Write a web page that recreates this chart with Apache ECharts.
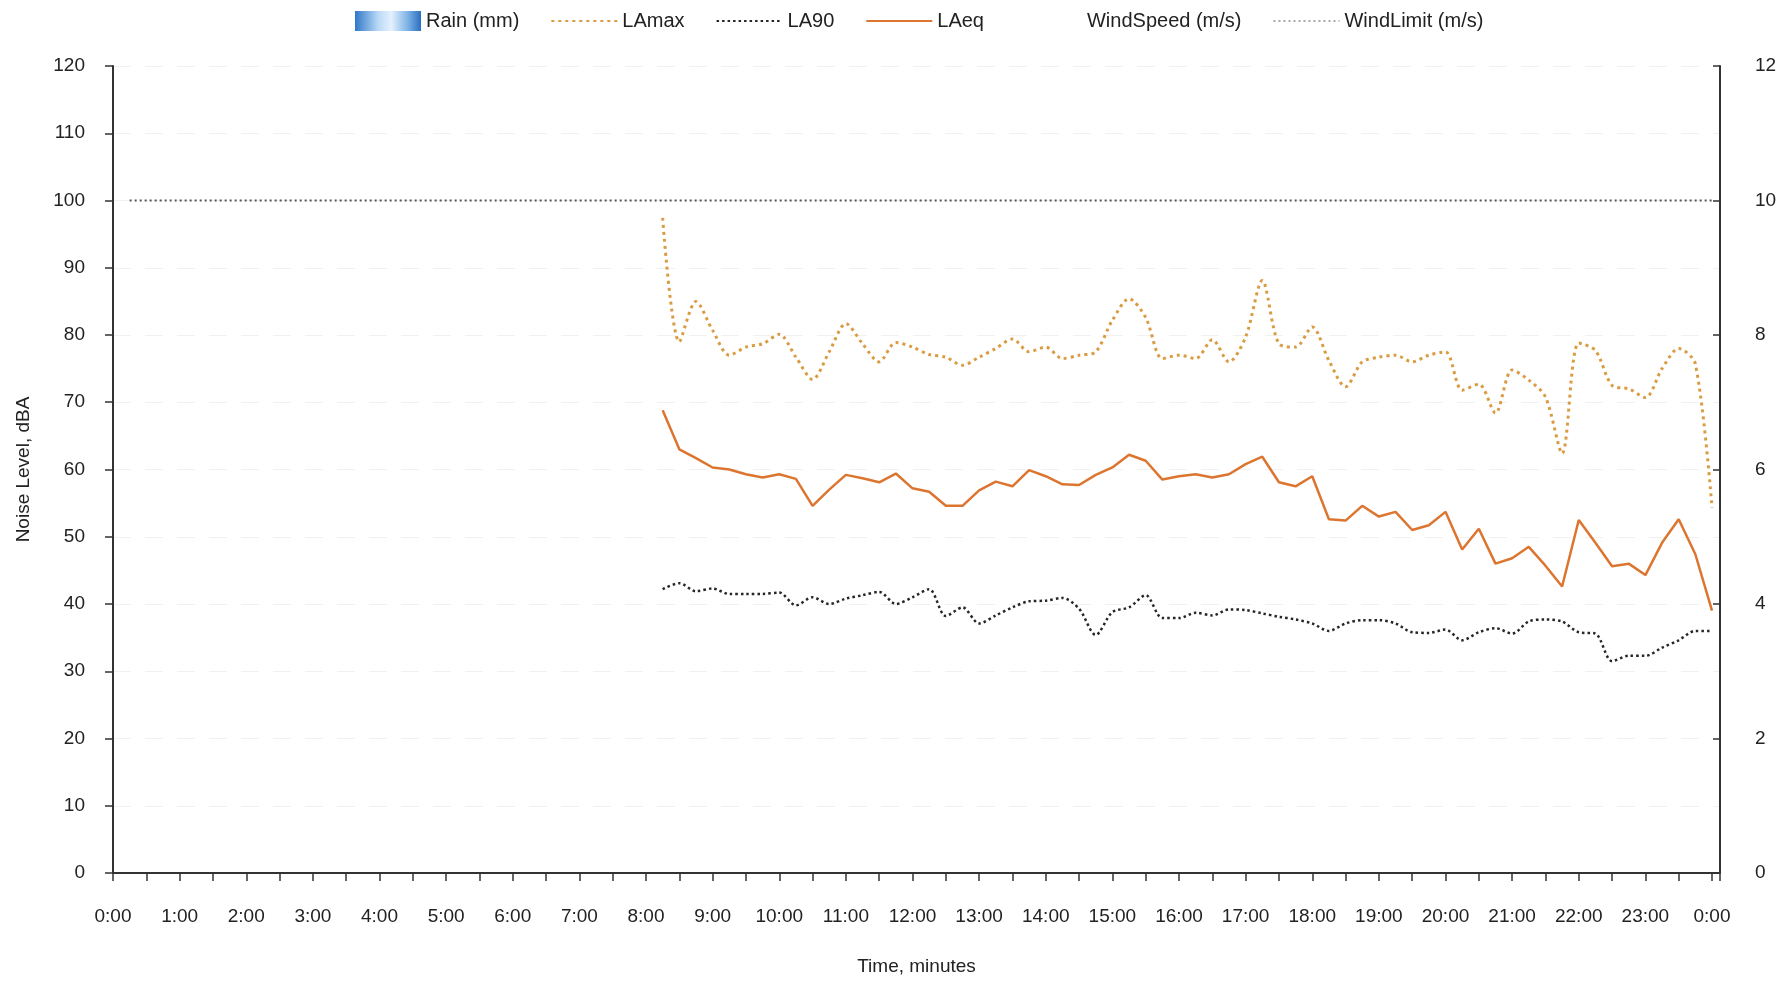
<!DOCTYPE html>
<html>
<head>
<meta charset="utf-8">
<title>Noise Level</title>
<script src="https://cdn.jsdelivr.net/npm/echarts@6/dist/echarts.min.js"></script>
<style>
  html, body { margin: 0; padding: 0; background: #ffffff; }
  #chart { width: 1789px; height: 981px; }
</style>
</head>
<body>
<div id="chart"></div>
<script>
// Sample times (15-minute intervals, hh:mm)
const times = [
  '8:15','8:30','8:45','9:00','9:15','9:30','9:45','10:00','10:15','10:30',
  '10:45','11:00','11:15','11:30','11:45','12:00','12:15','12:30','12:45','13:00',
  '13:15','13:30','13:45','14:00','14:15','14:30','14:45','15:00','15:15','15:30',
  '15:45','16:00','16:15','16:30','16:45','17:00','17:15','17:30','17:45','18:00',
  '18:15','18:30','18:45','19:00','19:15','19:30','19:45','20:00','20:15','20:30',
  '20:45','21:00','21:15','21:30','21:45','22:00','22:15','22:30','22:45','23:00',
  '23:15','23:30','23:45','24:00'
];

// Noise levels, dBA
const laMax = [
  97.4, 79.0, 85.0, 80.7, 77.0, 78.2, 78.7, 80.1, 76.7, 73.4,
  77.5, 81.7, 78.7, 76.0, 78.9, 78.2, 77.1, 76.7, 75.5, 76.7,
  78.0, 79.4, 77.5, 78.2, 76.5, 77.0, 77.5, 82.2, 85.4, 82.6,
  76.5, 77.0, 76.5, 79.3, 76.0, 79.7, 88.1, 78.7, 78.2, 81.2,
  76.2, 72.3, 76.0, 76.7, 77.0, 76.0, 77.0, 77.5, 71.8, 72.7,
  68.4, 74.8, 73.3, 70.8, 62.4, 78.8, 77.7, 72.5, 72.0, 70.7,
  75.0, 78.0, 75.7, 54.3
];
const la90 = [
  42.2, 43.1, 41.9, 42.3, 41.5, 41.5, 41.5, 41.7, 39.8, 41.0,
  40.0, 40.8, 41.3, 41.8, 40.0, 41.0, 42.2, 38.2, 39.5, 37.1,
  38.3, 39.5, 40.4, 40.5, 40.9, 39.3, 35.4, 38.8, 39.5, 41.3,
  37.9, 37.9, 38.7, 38.3, 39.2, 39.1, 38.6, 38.1, 37.7, 37.1,
  36.0, 37.1, 37.6, 37.6, 37.1, 35.8, 35.7, 36.2, 34.6, 35.8,
  36.4, 35.6, 37.4, 37.7, 37.4, 35.8, 35.6, 31.5, 32.3, 32.3,
  33.5, 34.6, 36.0, 36.0
];
const laEq = [
  68.8, 63.0, 61.7, 60.3, 60.0, 59.3, 58.8, 59.3, 58.6, 54.6,
  57.0, 59.2, 58.7, 58.1, 59.4, 57.2, 56.7, 54.6, 54.6, 56.9,
  58.2, 57.5, 59.9, 59.0, 57.8, 57.7, 59.2, 60.3, 62.2, 61.3,
  58.5, 59.0, 59.3, 58.8, 59.3, 60.8, 61.9, 58.1, 57.5, 59.0,
  52.6, 52.4, 54.6, 53.0, 53.7, 51.0, 51.7, 53.7, 48.1, 51.2,
  46.0, 46.8, 48.5, 45.7, 42.6, 52.5, 49.1, 45.6, 46.0, 44.3,
  49.1, 52.6, 47.4, 39.0
];

// Rain and wind speed have no recorded values for this day
const rain = [];
const windSpeed = [];

// Wind limit, m/s
const windLimitTimes = ['0:15', '24:00'];
const windLimit = [10, 10];

// Hour tick labels along the time axis
const hourLabels = [
  '0:00','1:00','2:00','3:00','4:00','5:00','6:00','7:00','8:00','9:00',
  '10:00','11:00','12:00','13:00','14:00','15:00','16:00','17:00','18:00',
  '19:00','20:00','21:00','22:00','23:00','0:00'
];

function toHours(t) {
  const p = t.split(':');
  return Number(p[0]) + Number(p[1]) / 60;
}
function pairs(ts, vs) {
  return ts.map((t, i) => [toHours(t), vs[i]]);
}

const FONT = '"Liberation Sans", Arial, sans-serif';
const AXIS_COLOR = '#333333';

const chart = echarts.init(document.getElementById('chart'), null, { renderer: 'canvas' });

chart.setOption({
  animation: false,
  backgroundColor: '#ffffff',
  textStyle: { fontFamily: FONT },
  grid: { left: 113, right: 69, top: 66, bottom: 107 },
  legend: {
    left: 350,
    top: 6,
    itemWidth: 66,
    itemHeight: 20,
    itemGap: 31,
    textStyle: { fontSize: 20, color: '#222222', fontFamily: FONT },
    data: [
      { name: 'Rain (mm)', icon: 'rect' },
      { name: 'LAmax', itemStyle: { opacity: 0 } },
      { name: 'LA90', itemStyle: { opacity: 0 } },
      { name: 'LAeq', itemStyle: { opacity: 0 } },
      { name: 'WindSpeed (m/s)', itemStyle: { opacity: 0 }, lineStyle: { opacity: 0 } },
      { name: 'WindLimit (m/s)', itemStyle: { opacity: 0 }, lineStyle: { color: '#a8a8a8' } }
    ]
  },
  xAxis: {
    type: 'value',
    min: 0,
    max: 24.12,
    interval: 1,
    name: 'Time, minutes',
    nameLocation: 'middle',
    nameGap: 84,
    nameTextStyle: { fontSize: 19, color: '#222222', fontFamily: FONT },
    axisLine: { show: true, onZero: false, lineStyle: { color: AXIS_COLOR, width: 2 } },
    axisTick: { show: true, length: 8, lineStyle: { color: AXIS_COLOR, width: 1.5 } },
    minorTick: { show: true, splitNumber: 2, length: 8, lineStyle: { color: AXIS_COLOR, width: 1.5 } },
    axisLabel: {
      margin: 34,
      fontSize: 19,
      color: '#222222',
      fontFamily: FONT,
      showMaxLabel: false,
      formatter: v => (Number.isInteger(v) && hourLabels[v] !== undefined) ? hourLabels[v] : ''
    },
    splitLine: { show: false }
  },
  yAxis: [
    {
      type: 'value',
      min: 0,
      max: 120,
      interval: 10,
      name: 'Noise Level, dBA',
      nameLocation: 'middle',
      nameGap: 80,
      nameTextStyle: { fontSize: 19, color: '#222222', fontFamily: FONT },
      axisLine: { show: true, lineStyle: { color: AXIS_COLOR, width: 2 } },
      axisTick: { show: true, length: 8, lineStyle: { color: AXIS_COLOR, width: 1.5 } },
      axisLabel: { margin: 28, fontSize: 19, color: '#222222', fontFamily: FONT },
      splitLine: { show: true, lineStyle: { color: '#f1f1f1', width: 1, type: [18, 14] } }
    },
    {
      type: 'value',
      min: 0,
      max: 12,
      interval: 2,
      position: 'right',
      axisLine: { show: true, lineStyle: { color: AXIS_COLOR, width: 2 } },
      axisTick: { show: true, inside: true, length: 7, lineStyle: { color: AXIS_COLOR, width: 1.5 } },
      axisLabel: { margin: 35, fontSize: 19, color: '#222222', fontFamily: FONT },
      splitLine: { show: false }
    }
  ],
  series: [
    {
      name: 'Rain (mm)',
      type: 'bar',
      yAxisIndex: 1,
      barWidth: 10,
      data: rain,
      itemStyle: {
        color: {
          type: 'linear', x: 0, y: 0, x2: 1, y2: 0,
          colorStops: [
            { offset: 0, color: '#2f78c8' },
            { offset: 0.35, color: '#b9d9f6' },
            { offset: 0.55, color: '#e4f1fd' },
            { offset: 0.8, color: '#7db2e6' },
            { offset: 1, color: '#2a6fc0' }
          ]
        }
      }
    },
    {
      name: 'LAmax',
      type: 'line',
      yAxisIndex: 0,
      data: pairs(times, laMax),
      symbol: 'none',
      smooth: 0.3,
      lineStyle: { color: '#d99c42', width: 3, type: [3, 4] },
      itemStyle: { color: '#d99c42' },
      z: 3
    },
    {
      name: 'LA90',
      type: 'line',
      yAxisIndex: 0,
      data: pairs(times, la90),
      symbol: 'none',
      smooth: 0.3,
      lineStyle: { color: '#262626', width: 2.5, type: [2.5, 3] },
      itemStyle: { color: '#262626' },
      z: 3
    },
    {
      name: 'LAeq',
      type: 'line',
      yAxisIndex: 0,
      data: pairs(times, laEq),
      symbol: 'none',
      lineStyle: { color: '#dc7530', width: 2.5 },
      itemStyle: { color: '#dc7530' },
      z: 4
    },
    {
      name: 'WindSpeed (m/s)',
      type: 'line',
      yAxisIndex: 1,
      data: windSpeed,
      symbol: 'none',
      lineStyle: { color: '#ffffff', width: 2 },
      itemStyle: { color: '#ffffff' }
    },
    {
      name: 'WindLimit (m/s)',
      type: 'line',
      yAxisIndex: 1,
      data: pairs(windLimitTimes, windLimit),
      symbol: 'none',
      lineStyle: { color: '#555555', width: 2, type: [2, 3] },
      itemStyle: { color: '#555555' },
      z: 2
    }
  ]
});
</script>
</body>
</html>
